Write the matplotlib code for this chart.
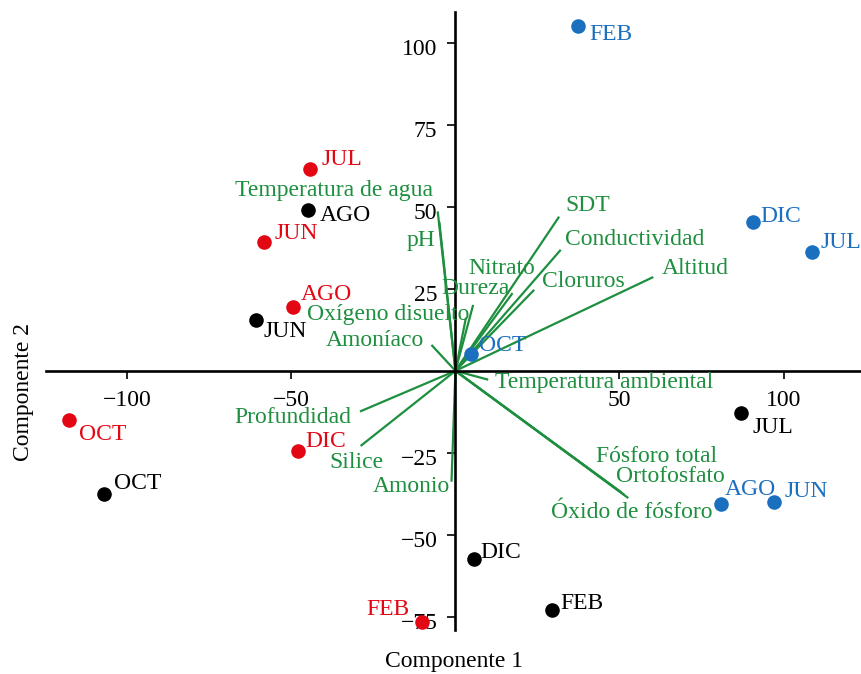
import matplotlib
matplotlib.use("Agg")
import matplotlib.pyplot as plt
import matplotlib.transforms as mtransforms

plt.rcParams["font.family"] = ["Liberation Serif", "DejaVu Serif"]
plt.rcParams["axes.unicode_minus"] = True

# Sample scores on the first two principal components, grouped by series
months = ["AGO", "JUN", "JUL", "OCT", "DIC", "FEB"]

black_pc1 = [-44.9, -60.8, 87.0, -107.1, 5.6, 29.4]
black_pc2 = [48.9, 15.5, -12.8, -37.5, -57.3, -72.9]

red_pc1 = [-49.5, -58.3, -44.3, -117.8, -47.9, -10.3]
red_pc2 = [19.6, 39.4, 61.6, -14.9, -24.3, -76.7]

blue_pc1 = [80.9, 97.1, 108.7, 4.6, 90.7, 37.3]
blue_pc2 = [-40.6, -40.0, 36.3, 5.1, 45.4, 105.2]

# Variable loadings (scaled)
variables = [
    "Temperatura de agua", "pH", "Oxígeno disuelto", "Dureza", "Amoníaco",
    "Nitrato", "Cloruros", "Conductividad", "SDT", "Altitud",
    "Temperatura ambiental", "Fósforo total", "Ortofosfato",
    "Óxido de fósforo", "Profundidad", "Silice", "Amonio",
]
load_pc1 = [-5.4, -4.9, 3.2, 5.4, -7.3, 17.4, 24.0, 32.1, 31.6, 60.3,
            10.0, 50.5, 51.5, 52.7, -29.1, -28.9, -1.2]
load_pc2 = [48.6, 45.4, 16.2, 20.1, 7.9, 23.7, 24.7, 36.9, 47.0, 28.6,
            -2.7, -37.0, -37.8, -38.8, -12.4, -22.9, -33.8]

x_ticks = [-100, -50, 50, 100]
y_ticks = [-75, -50, -25, 25, 50, 75, 100]

# Layout: label offsets (points) for each sample, and anchor spots for loadings
black_offsets = [(8.4, -7.9, "left"), (5.3, -12.0, "left"), (8.1, -14.2, "left"),
                 (7.0, 3.4, "left"), (5.0, 0.7, "left"), (5.8, 0.7, "left")]
red_offsets = [(5.5, 4.8, "left"), (7.7, 1.7, "left"), (7.9, 2.4, "left"),
               (7.2, -14.9, "left"), (5.3, 2.9, "left"), (-8.9, 5.0, "right")]
blue_offsets = [(3.1, 6.7, "left"), (7.9, 4.0, "left"), (6.0, 2.9, "left"),
                (6.0, 1.9, "left"), (5.0, 0.0, "left"), (8.6, -10.1, "left")]
var_label_spots = [
    (-6.9, 53.3, "right"), (-6.25, 38.1, "right"), (-45.2, 15.5, "left"),
    (-4.2, 23.4, "left"), (-39.5, 7.6, "left"), (3.9, 29.5, "left"),
    (26.5, 25.7, "left"), (33.4, 38.4, "left"), (33.4, 48.6, "left"),
    (62.9, 29.6, "left"), (12.0, -5.3, "left"), (79.8, -27.7, "right"),
    (82.2, -33.75, "right"), (78.3, -44.9, "right"), (-31.6, -15.9, "right"),
    (-38.3, -29.7, "left"), (-1.7, -36.8, "right"),
]

GREEN = "#1d8f3e"
RED = "#e30613"
BLUE = "#1a6fbf"
BLACK = "#000000"
FS = 17

fig = plt.figure(figsize=(8.61, 6.74), dpi=100)
ax = fig.add_axes([0.0534, 0.0653, 0.9454, 0.9174])
ax.set_xlim(-124.8, 123.3)
ax.set_ylim(-79.0, 109.5)

for side in ("top", "right"):
    ax.spines[side].set_visible(False)
for side in ("left", "bottom"):
    ax.spines[side].set_position(("data", 0))
    ax.spines[side].set_linewidth(1.9)
ax.set_xticks(x_ticks)
ax.set_yticks(y_ticks)
ax.tick_params(direction="out", length=6, width=1.2, labelsize=FS)
ax.tick_params(axis="x", pad=8)
ax.tick_params(axis="y", pad=7)

# nudge y tick labels slightly below their ticks
shift_down = mtransforms.ScaledTranslation(0, -3 / 72, fig.dpi_scale_trans)
for lab in ax.get_yticklabels():
    lab.set_transform(lab.get_transform() + shift_down)

# Loading vectors
for x, y in zip(load_pc1, load_pc2):
    ax.plot([0, x], [0, y], color=GREEN, lw=1.6, zorder=2, solid_capstyle="butt")
for name, (lx, ly, ha) in zip(variables, var_label_spots):
    ax.text(lx, ly, name, color=GREEN, fontsize=FS, ha=ha, va="baseline", zorder=3)

# Sample scores
for xs, ys, col, offs in ((black_pc1, black_pc2, BLACK, black_offsets),
                          (red_pc1, red_pc2, RED, red_offsets),
                          (blue_pc1, blue_pc2, BLUE, blue_offsets)):
    ax.scatter(xs, ys, s=110, color=col, zorder=4, linewidths=0)
    for m, x, y, (dx, dy, ha) in zip(months, xs, ys, offs):
        ax.annotate(m, (x, y), xytext=(dx, dy), textcoords="offset points",
                    color=col, fontsize=FS, ha=ha, va="baseline", zorder=5)

fig.text(454 / 861, 1 - 667 / 674, "Componente 1", fontsize=FS,
         ha="center", va="baseline")
fig.text(23 / 861, 1 - 392 / 674, "Componente 2", fontsize=FS,
         ha="center", va="center", rotation=90)

fig.savefig("out.png", dpi=100)
